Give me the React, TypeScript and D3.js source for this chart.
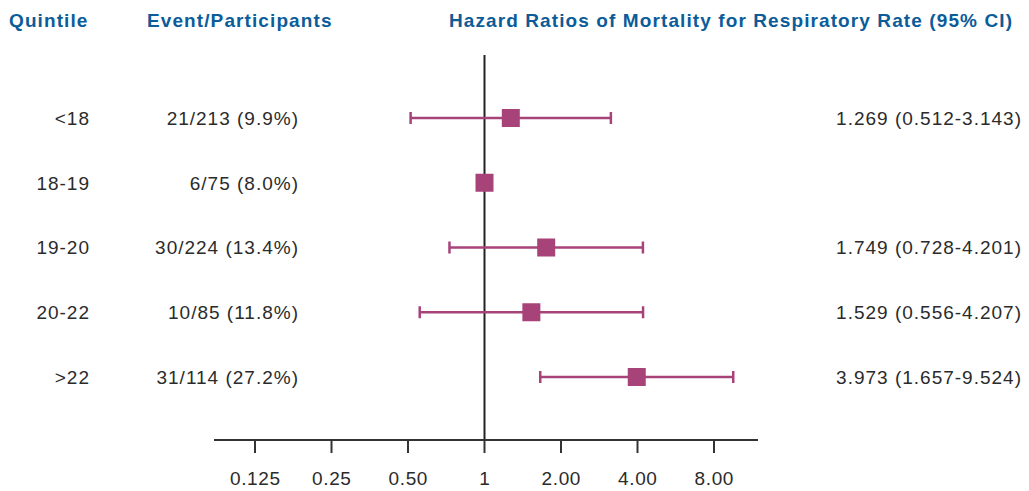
import React from "react";
import * as d3 from "d3";

const quintiles = ["<18", "18-19", "19-20", "20-22", ">22"];
const events = ["21/213 (9.9%)", "6/75 (8.0%)", "30/224 (13.4%)", "10/85 (11.8%)", "31/114 (27.2%)"];
const hr = [1.269, 1.0, 1.749, 1.529, 3.973];
const lower = [0.512, null, 0.728, 0.556, 1.657];
const upper = [3.143, null, 4.201, 4.207, 9.524];
const hrLabels = ["1.269 (0.512-3.143)", "", "1.749 (0.728-4.201)", "1.529 (0.556-4.207)", "3.973 (1.657-9.524)"];
const tickValues = [0.125, 0.25, 0.5, 1, 2, 4, 8];
const tickLabels = ["0.125", "0.25", "0.50", "1", "2.00", "4.00", "8.00"];

const W = 1029;
const H = 491;
const HEAD = "#0b5c99";
const MARK = "#a8437a";
const TXT = "#2b2b2b";

export default function App() {
  const x = d3.scaleLog().base(2).domain([0.125, 8]).range([255, 714]);
  const y = d3.scalePoint<string>().domain(quintiles).range([118, 377]);
  const axisY = 440;
  const font = "'Liberation Sans', Arial, sans-serif";
  const ls = 1.0;
  const hls = 1.1;
  return (
    <svg width={W} height={H} style={{ position: "absolute", left: 0, top: 0, background: "#fff" }}>
      <g fontFamily={font} fontWeight="bold" fontSize={19} fill={HEAD} letterSpacing={hls}>
        <text x={9} y={27}>Quintile</text>
        <text x={147} y={27}>Event/Participants</text>
        <text x={1012 + hls} y={27} textAnchor="end">Hazard Ratios of Mortality for Respiratory Rate (95% CI)</text>
      </g>
      <line x1={x(1)} x2={x(1)} y1={55} y2={axisY} stroke="#222" strokeWidth={2} />
      <line x1={214} x2={758} y1={axisY} y2={axisY} stroke="#333" strokeWidth={2} />
      {tickValues.map((t, i) => (
        <g key={t}>
          <line x1={x(t)} x2={x(t)} y1={axisY} y2={axisY + 13} stroke="#333" strokeWidth={2} />
          <text x={x(t) + 0.3} y={485} textAnchor="middle" fontFamily={font} fontSize={19} letterSpacing={0.6} fill={TXT}>{tickLabels[i]}</text>
        </g>
      ))}
      {quintiles.map((q, i) => {
        const yy = y(q)!;
        return (
          <g key={q}>
            <g fontFamily={font} fontSize={19} fill={TXT} letterSpacing={ls} textAnchor="end">
              <text x={89 + ls} y={yy} dy="0.36em">{q}</text>
              <text x={298 + ls} y={yy} dy="0.36em">{events[i]}</text>
              <text x={1021 + ls} y={yy} dy="0.36em">{hrLabels[i]}</text>
            </g>
            {lower[i] != null && upper[i] != null && (
              <g stroke={MARK} strokeWidth={2.5}>
                <line x1={x(lower[i]!)} x2={x(upper[i]!)} y1={yy} y2={yy} />
                <line x1={x(lower[i]!)} x2={x(lower[i]!)} y1={yy - 6} y2={yy + 6} />
                <line x1={x(upper[i]!)} x2={x(upper[i]!)} y1={yy - 6} y2={yy + 6} />
              </g>
            )}
            <rect x={x(hr[i]) - 9} y={yy - 9} width={18} height={18} fill={MARK} />
          </g>
        );
      })}
    </svg>
  );
}
